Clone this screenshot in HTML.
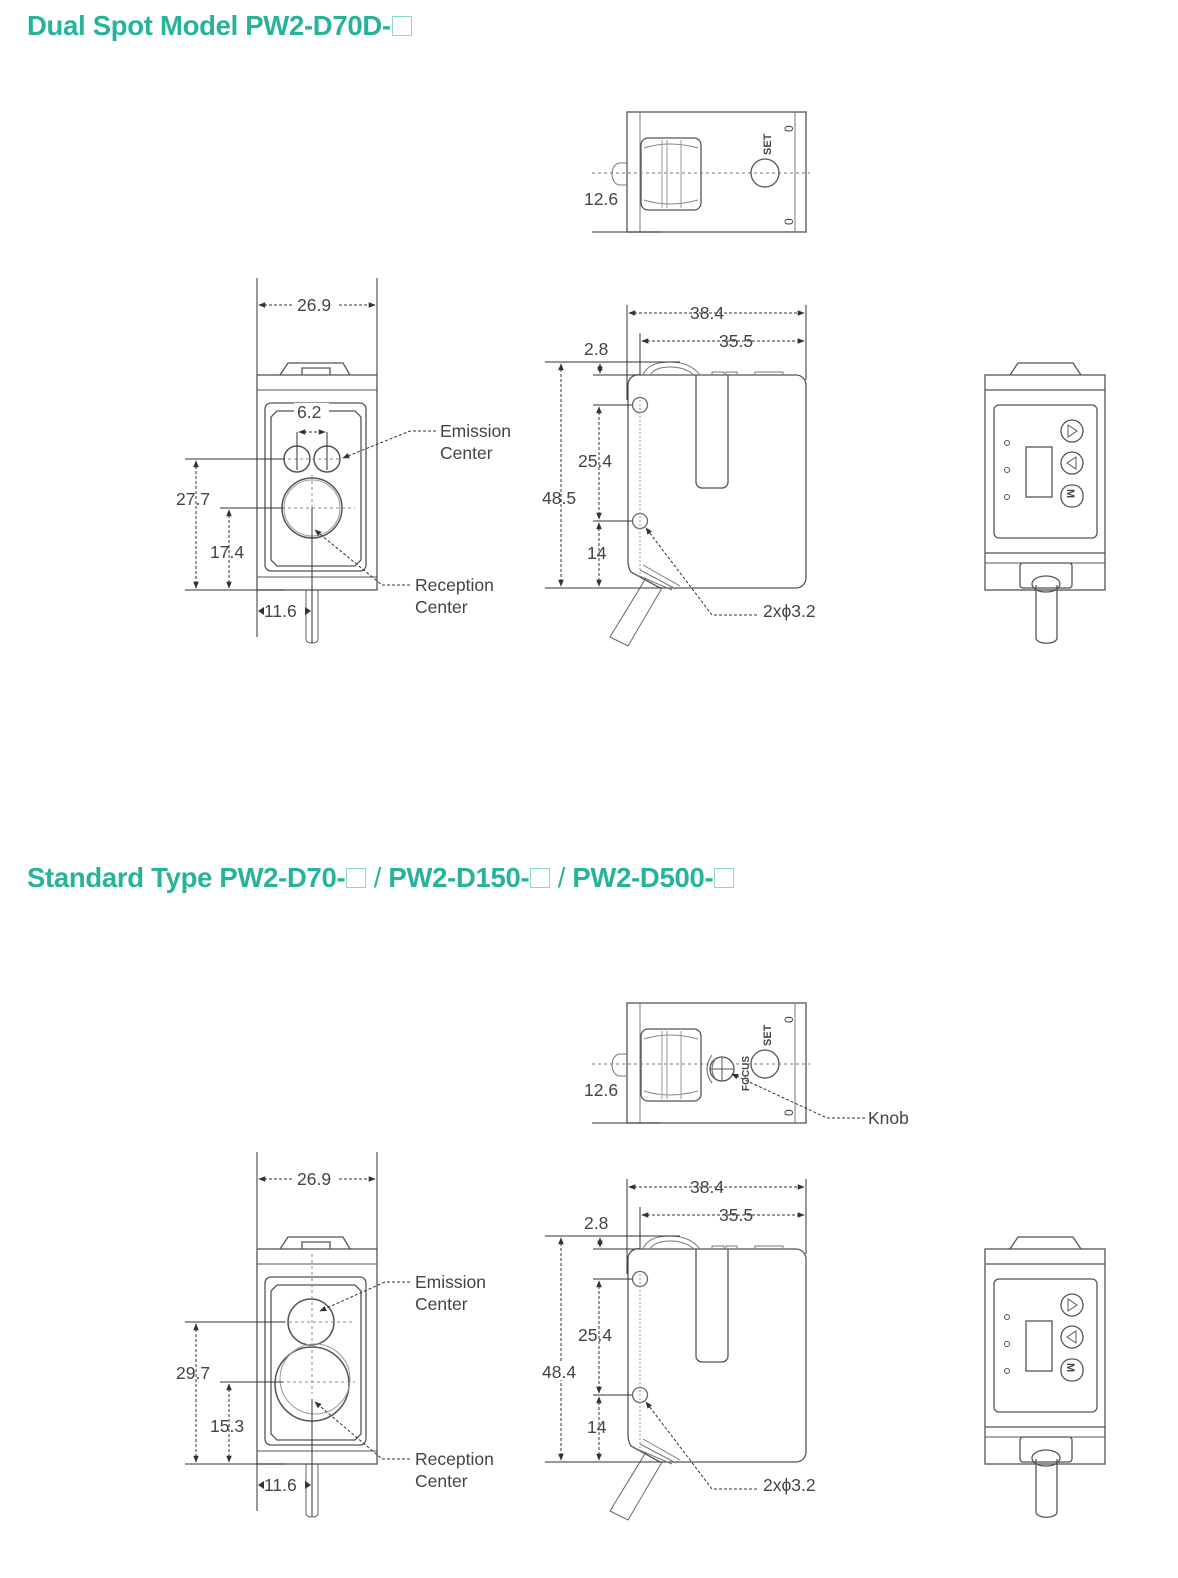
<!DOCTYPE html>
<html><head><meta charset="utf-8"><style>
html,body{margin:0;padding:0;background:#fff;}
body{width:1178px;height:1578px;position:relative;overflow:hidden;font-family:"Liberation Sans",sans-serif;}
.t{position:absolute;left:27px;color:#27b29a;font-weight:bold;font-size:27.5px;white-space:nowrap;letter-spacing:-0.3px;}
.b{display:inline-block;width:20px;height:20px;border:1.5px solid #8fd8ca;vertical-align:-1px;margin-left:1px;box-sizing:border-box;}
svg{position:absolute;left:0;top:0;}
svg text{font-family:"Liberation Sans",sans-serif;font-size:17.5px;fill:#444;}
</style></head><body>
<div class="t" style="top:10px">Dual Spot Model PW2-D70D-<span class="b"></span></div>
<div class="t" style="top:862px">Standard Type PW2-D70-<span class="b"></span> <span style="font-weight:normal">/</span> PW2-D150-<span class="b"></span> <span style="font-weight:normal">/</span> PW2-D500-<span class="b"></span></div>
<svg width="1178" height="1578" viewBox="0 0 1178 1578">
<defs>
<marker id="a" viewBox="0 0 10 10" refX="9" refY="5" markerWidth="7" markerHeight="7" orient="auto-start-reverse"><path d="M0,1 L10,5 L0,9z" fill="#333"/></marker>
<g id="topview">
 <rect x="627" y="112" width="179" height="120" fill="none" stroke="#555" stroke-width="1.3"/>
 <line x1="640" y1="112" x2="640" y2="232" stroke="#777"/>
 <line x1="795" y1="112" x2="795" y2="232" stroke="#777"/>
 <path d="M627,163 h-7 a8,11 0 0 0 0,22 h7" fill="none" stroke="#777"/>
 <rect x="641" y="138" width="60" height="72" rx="7" fill="none" stroke="#555" stroke-width="1.3"/>
 <path d="M644,148 q25,-8 54,0 M644,200 q25,8 54,0" fill="none" stroke="#888"/>
 <line x1="662" y1="140" x2="662" y2="208" stroke="#999"/><line x1="667" y1="140" x2="667" y2="208" stroke="#999"/><line x1="681" y1="140" x2="681" y2="208" stroke="#999"/>
 <line x1="592" y1="173" x2="810" y2="173" stroke="#777" stroke-dasharray="3,3"/>
 <line x1="592" y1="232" x2="660" y2="232" stroke="#333"/>
 <circle cx="765" cy="173" r="14" fill="none" stroke="#555" stroke-width="1.3"/>
 <text transform="translate(771,155) rotate(-90)" style="font-size:11px;font-weight:bold">SET</text>
 <text transform="translate(793,132) rotate(-90)" style="font-size:12px">0</text>
 <text transform="translate(793,225) rotate(-90)" style="font-size:12px">0</text>
 <text x="584" y="205">12.6</text>
</g>
<g id="sideview" fill="none">
 <path d="M640,375 H796 a10,10 0 0 1 10,10 V578 a10,10 0 0 1 -10,10 H660 L631,572 Q628,568 628,560 V385 a10,10 0 0 1 12,-10z" stroke="#555" stroke-width="1.3"/>
 <path d="M696,375 V482 a6,6 0 0 0 6,6 h20 a6,6 0 0 0 6,-6 V375" stroke="#555" stroke-width="1.3"/>
 <path d="M643,375 Q648,362 670,362 Q690,362 700,375 M650,375 Q655,367 670,367 Q685,367 694,375" stroke="#777"/>
 <path d="M712,375 v-3 h12 v3 M726,375 v-3 h11 v3 M755,375 v-3 h28 v3" stroke="#777"/>
 <circle cx="640" cy="405" r="7.5" stroke="#666" stroke-width="1.3"/>
 <circle cx="640" cy="521" r="7.5" stroke="#666" stroke-width="1.3"/>
 <line x1="640" y1="400" x2="640" y2="575" stroke="#999" stroke-dasharray="2,2"/>
 <path d="M643,565 L680,586 M640,570 L676,589 M637,575 L672,590" stroke="#777"/>
 <path d="M646,578 L610,637 L628,646 L662,588" stroke="#666"/>
 <line x1="627" y1="305" x2="627" y2="400" stroke="#333"/>
 <line x1="806" y1="305" x2="806" y2="380" stroke="#333"/>
 <line x1="640" y1="333" x2="640" y2="375" stroke="#333"/>
 <line x1="629" y1="313" x2="804" y2="313" stroke="#333" stroke-dasharray="3,2" marker-start="url(#a)" marker-end="url(#a)"/>
 <line x1="642" y1="341" x2="804" y2="341" stroke="#333" stroke-dasharray="3,2" marker-start="url(#a)" marker-end="url(#a)"/>
 <line x1="545" y1="362" x2="680" y2="362" stroke="#333"/>
 <line x1="593" y1="375" x2="640" y2="375" stroke="#333"/>
 <line x1="600" y1="364" x2="600" y2="373" stroke="#333" stroke-dasharray="2,2" marker-start="url(#a)" marker-end="url(#a)"/>
 <line x1="561" y1="364" x2="561" y2="586" stroke="#333" stroke-dasharray="3,2" marker-start="url(#a)" marker-end="url(#a)"/>
 <line x1="593" y1="405" x2="632" y2="405" stroke="#333"/>
 <line x1="593" y1="521" x2="632" y2="521" stroke="#333"/>
 <line x1="599" y1="407" x2="599" y2="519" stroke="#333" stroke-dasharray="3,2" marker-start="url(#a)" marker-end="url(#a)"/>
 <line x1="599" y1="523" x2="599" y2="586" stroke="#333" stroke-dasharray="3,2" marker-start="url(#a)" marker-end="url(#a)"/>
 <line x1="545" y1="588" x2="662" y2="588" stroke="#333"/>
 <path d="M757,615 H712 L646,528" stroke="#333" stroke-dasharray="3,2" marker-end="url(#a)"/>
 <g stroke="none">
 <text x="690" y="319">38.4</text><text x="719" y="347">35.5</text><text x="584" y="355">2.8</text>
 <text x="578" y="467">25.4</text><text x="542" y="504">48.5</text><text x="587" y="559">14</text>
 <text x="763" y="617">2xϕ3.2</text></g>
</g>
<g id="rightview" fill="none" stroke="#555" stroke-width="1.3">
 <path d="M1010,375 L1018,363 H1073 L1081,375"/>
 <rect x="985" y="375" width="120" height="215"/>
 <line x1="985" y1="390" x2="1105" y2="390"/>
 <rect x="994" y="405" width="103" height="133" rx="5"/>
 <rect x="1026" y="447" width="26" height="50"/>
 <circle cx="1007" cy="443" r="2.5" stroke-width="1"/><circle cx="1007" cy="470" r="2.5" stroke-width="1"/><circle cx="1007" cy="497" r="2.5" stroke-width="1"/>
 <circle cx="1072" cy="431" r="11"/><path d="M1068,425 L1077,431 L1068,437z" stroke-width="1"/>
 <circle cx="1072" cy="463" r="11"/><path d="M1076,457 L1067,463 L1076,469z" stroke-width="1"/>
 <rect x="1061" y="485" width="22" height="22" rx="10"/><text x="1065" y="501" transform="rotate(90 1072 496)" style="font-size:11px;font-weight:bold" stroke="none">M</text>
 <line x1="985" y1="553" x2="1105" y2="553"/><line x1="985" y1="563" x2="1105" y2="563" stroke-width="1"/>
 <rect x="1020" y="563" width="52" height="25" rx="3"/>
 <path d="M1036,585 V638 a10,5 0 0 0 21,0 V585"/>
 <ellipse cx="1046" cy="584" rx="14" ry="8"/>
</g>
</defs>

<g fill="none">
 <line x1="257" y1="278" x2="257" y2="637" stroke="#333"/>
 <line x1="377" y1="278" x2="377" y2="375" stroke="#333"/>
 <line x1="259" y1="305" x2="375" y2="305" stroke="#333" stroke-dasharray="3,2" marker-start="url(#a)" marker-end="url(#a)"/>
 <path d="M280,375 L288,363 H343 L350,375 M302,375 v-7 h28 v7" stroke="#555" stroke-width="1.3"/>
 <rect x="257" y="375" width="120" height="215" stroke="#555" stroke-width="1.3"/>
 <line x1="257" y1="390" x2="377" y2="390" stroke="#555"/>
 <line x1="257" y1="577" x2="377" y2="577" stroke="#555"/>
 <rect x="265" y="403" width="101" height="168" rx="6" stroke="#555" stroke-width="1.3"/>
 <path d="M277,411 H355 L361,417 V560 L355,566 H277 L271,560 V417z" stroke="#555" stroke-width="1.3"/>
 <circle cx="297" cy="459" r="13" stroke="#555" stroke-width="1.5"/>
 <circle cx="327" cy="459" r="13" stroke="#555" stroke-width="1.5"/>
 <circle cx="312" cy="508" r="30" stroke="#555" stroke-width="1.5"/><circle cx="312" cy="508" r="28" stroke="#999"/>
 <line x1="282" y1="459" x2="342" y2="459" stroke="#888" stroke-dasharray="3,3"/>
 <line x1="282" y1="508" x2="355" y2="508" stroke="#888" stroke-dasharray="3,3"/>
 <line x1="312" y1="475" x2="312" y2="508" stroke="#888" stroke-dasharray="3,3"/>
 <line x1="297" y1="432" x2="297" y2="470" stroke="#333"/><line x1="327" y1="432" x2="327" y2="470" stroke="#333"/>
 <line x1="299" y1="432" x2="325" y2="432" stroke="#333" stroke-dasharray="3,2" marker-start="url(#a)" marker-end="url(#a)"/>
 <path d="M306,590 V640 a6,3 0 0 0 12,0 V590" stroke="#666"/>
 <line x1="312" y1="508" x2="312" y2="643" stroke="#333"/>
 <line x1="185" y1="459" x2="285" y2="459" stroke="#333"/>
 <line x1="220" y1="508" x2="283" y2="508" stroke="#333"/>
 <line x1="185" y1="590" x2="285" y2="590" stroke="#333"/>
 <line x1="196" y1="461" x2="196" y2="588" stroke="#333" stroke-dasharray="3,2" marker-start="url(#a)" marker-end="url(#a)"/>
 <line x1="229" y1="510" x2="229" y2="588" stroke="#333" stroke-dasharray="3,2" marker-start="url(#a)" marker-end="url(#a)"/>
 <path d="M436,431 H410 L343,458" stroke="#333" stroke-dasharray="3,2" marker-end="url(#a)"/>
 <path d="M410,585 H382 L315,530" stroke="#333" stroke-dasharray="3,2" marker-end="url(#a)"/>
</g>
<rect x="294" y="403" width="35" height="16" fill="#fff"/>
<rect x="294" y="298" width="44" height="14" fill="#fff"/>
<rect x="262" y="604" width="40" height="14" fill="#fff"/>
<text x="297" y="418">6.2</text>
<text x="297" y="311">26.9</text>
<text x="176" y="505">27.7</text>
<text x="210" y="558">17.4</text>
<text x="264" y="617">11.6</text>
<path d="M264,607 l-6,4 l6,4z M305,607 l6,4 l-6,4z" fill="#333"/>
<text x="440" y="437">Emission</text><text x="440" y="459">Center</text>
<text x="415" y="591">Reception</text><text x="415" y="613">Center</text>

<use href="#topview"/>
<use href="#sideview"/>
<use href="#rightview"/>

<g transform="translate(0,874)" fill="none">
 <line x1="257" y1="278" x2="257" y2="637" stroke="#333"/>
 <line x1="377" y1="278" x2="377" y2="375" stroke="#333"/>
 <line x1="259" y1="305" x2="375" y2="305" stroke="#333" stroke-dasharray="3,2" marker-start="url(#a)" marker-end="url(#a)"/>
 <path d="M280,375 L288,363 H343 L350,375 M302,375 v-7 h28 v7" stroke="#555" stroke-width="1.3"/>
 <rect x="257" y="375" width="120" height="215" stroke="#555" stroke-width="1.3"/>
 <line x1="257" y1="390" x2="377" y2="390" stroke="#555"/>
 <line x1="257" y1="577" x2="377" y2="577" stroke="#555"/>
 <rect x="265" y="403" width="101" height="168" rx="6" stroke="#555" stroke-width="1.3"/>
 <path d="M277,411 H355 L361,417 V560 L355,566 H277 L271,560 V417z" stroke="#555" stroke-width="1.3"/>
 <circle cx="311" cy="448" r="23" stroke="#555" stroke-width="1.5"/>
 <circle cx="312" cy="510" r="37" stroke="#555" stroke-width="1.5"/><circle cx="315" cy="505" r="35" stroke="#999"/>
 <line x1="312" y1="380" x2="312" y2="520" stroke="#888" stroke-dasharray="3,3"/>
 <line x1="283" y1="448" x2="355" y2="448" stroke="#888" stroke-dasharray="3,3"/>
 <line x1="275" y1="508" x2="355" y2="508" stroke="#888" stroke-dasharray="3,3"/>
 <path d="M306,590 V640 a6,3 0 0 0 12,0 V590" stroke="#666"/>
 <line x1="312" y1="525" x2="312" y2="643" stroke="#333"/>
 <line x1="185" y1="448" x2="285" y2="448" stroke="#333"/>
 <line x1="220" y1="508" x2="283" y2="508" stroke="#333"/>
 <line x1="185" y1="590" x2="285" y2="590" stroke="#333"/>
 <line x1="196" y1="450" x2="196" y2="588" stroke="#333" stroke-dasharray="3,2" marker-start="url(#a)" marker-end="url(#a)"/>
 <line x1="229" y1="510" x2="229" y2="588" stroke="#333" stroke-dasharray="3,2" marker-start="url(#a)" marker-end="url(#a)"/>
 <path d="M410,408 H385 L320,437" stroke="#333" stroke-dasharray="3,2" marker-end="url(#a)"/>
 <path d="M410,585 H382 L315,528" stroke="#333" stroke-dasharray="3,2" marker-end="url(#a)"/>
 <rect x="294" y="298" width="44" height="14" fill="#fff"/>
 <rect x="262" y="604" width="40" height="14" fill="#fff"/>
 <g fill="#444">
 <text x="297" y="311">26.9</text>
 <text x="176" y="505">29.7</text>
 <text x="210" y="558">15.3</text>
 <text x="264" y="617">11.6</text>
 <path d="M264,607 l-6,4 l6,4z M305,607 l6,4 l-6,4z" fill="#333"/>
 <text x="415" y="414">Emission</text><text x="415" y="436">Center</text>
 <text x="415" y="591">Reception</text><text x="415" y="613">Center</text></g>
</g>
<g transform="translate(0,891)">
 <use href="#topview"/>
 <circle cx="722" cy="178" r="12" fill="#fff" stroke="#555" stroke-width="1.3"/>
 <path d="M722,166 V190 M710,178 H734" stroke="#555"/>
 <path d="M712,164 Q702,178 712,192 M716,167 Q708,178 716,189" fill="none" stroke="#666"/>
 <text transform="translate(749,200) rotate(-90)" style="font-size:10px;font-weight:bold">FOCUS</text>
 <path d="M865,227 H827 L732,183" fill="none" stroke="#333" stroke-dasharray="3,2" marker-end="url(#a)"/>
 <text x="868" y="233">Knob</text>
</g>
<g transform="translate(0,874)">
 <use href="#sideview"/>
 <rect x="540" y="488" width="38" height="18" fill="#fff"/>
 <text x="542" y="504">48.4</text>
 <use href="#rightview"/>
</g>
</svg>
</body></html>
